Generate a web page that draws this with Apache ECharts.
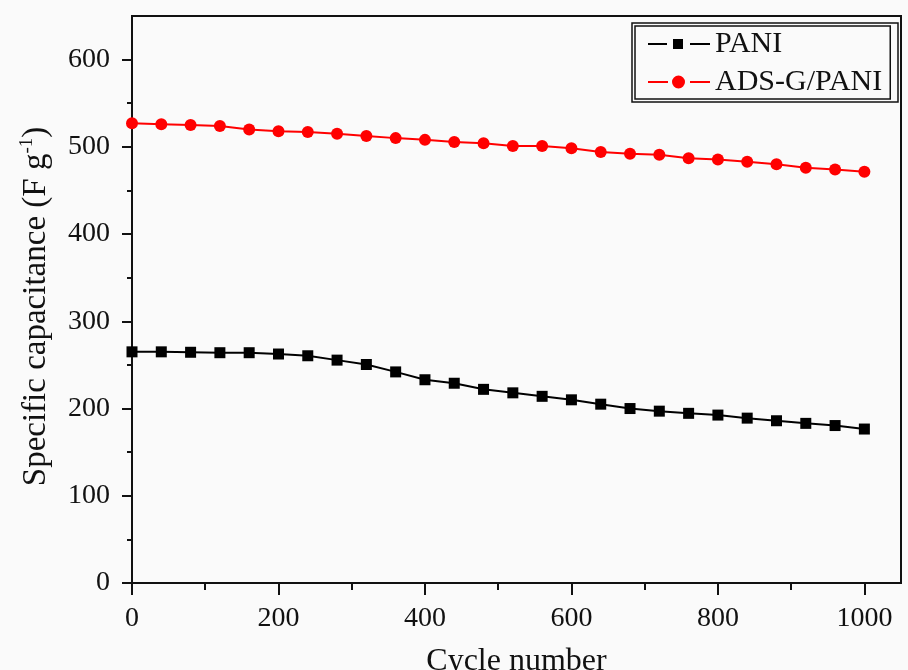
<!DOCTYPE html>
<html>
<head>
<meta charset="utf-8">
<script src="https://cdn.jsdelivr.net/npm/echarts@6/dist/echarts.min.js"></script>
<style>
html,body{margin:0;padding:0;background:#fafafa;}
#main{width:908px;height:670px;}
</style>
</head>
<body>
<div id="main"></div>
<script>
var cycles = [0,40,80,120,160,200,240,280,320,360,400,440,480,520,560,600,640,680,720,760,800,840,880,920,960,1000];
var pani = [265,265,264.5,264,264,262.5,260.5,255.5,250.5,242,233,229,222,218,214,210,205,200,197,194.5,192.5,189,186,183,180.5,176.5];
var adsg = [527,526,525,524,520,518,517,515,512.5,510,508,505.5,504,501,501,498.5,494,492,491,487,485.5,483,480,476,474,471.5];
var seriesNames = ['PANI','ADS-G/PANI'];
var xTitle = 'Cycle number';
var xTicks = [0,200,400,600,800,1000];
var yTicks = [0,100,200,300,400,500,600];

function pairs(xs, ys){ return xs.map(function(x,i){ return [x, ys[i]]; }); }

var FONT = "'Liberation Serif','Times New Roman',serif";
var iconSquare = 'path://M0,4h19v2h-19z M25,0h10v10h-10z M42,4h20v2h-20z';
var iconCircle = 'path://M0,5.5h20v2h-20z M24,6.5a6.5,6.5 0 1,0 13,0a6.5,6.5 0 1,0 -13,0z M42,5.5h20v2h-20z';
var chart = echarts.init(document.getElementById('main'), null, {renderer:'canvas'});
chart.setOption({
  backgroundColor:'#fafafa',
  animation:false,
  textStyle:{fontFamily:FONT,color:'#111'},
  grid:{left:132,top:16,width:769,height:567,containLabel:false,outerBoundsMode:'none',
        show:true,borderColor:'#111',borderWidth:2,backgroundColor:'transparent'},
  xAxis:{
    type:'value',min:0,max:1050,interval:200,
    name:xTitle,nameLocation:'middle',nameGap:63,
    nameTextStyle:{fontFamily:FONT,fontSize:32,color:'#111'},
    axisLine:{show:true,lineStyle:{color:'#111',width:2}},
    axisTick:{show:true,inside:false,length:12,customValues:xTicks,lineStyle:{color:'#111',width:2}},
    minorTick:{show:true,splitNumber:2,length:7,lineStyle:{color:'#111',width:2}},
    splitLine:{show:false},
    axisLabel:{fontFamily:FONT,fontSize:28,color:'#111',margin:22,customValues:xTicks,
      formatter:function(v){ return String(v); }}
  },
  yAxis:{
    type:'value',min:0,max:650,interval:100,
    name:'{a|Specific capacitance (F g}{s|-1}{a|)}',nameLocation:'middle',nameGap:78,nameRotate:90,
    nameTextStyle:{fontFamily:FONT,fontSize:33,color:'#111',padding:[0,14,0,0],
      rich:{a:{fontFamily:FONT,fontSize:33,color:'#111',lineHeight:36},
            s:{fontFamily:FONT,fontSize:19,color:'#111',verticalAlign:'top',lineHeight:36,padding:[0,0,14,0]}}},
    axisLine:{show:true,lineStyle:{color:'#111',width:2}},
    axisTick:{show:true,inside:false,length:10,customValues:yTicks,lineStyle:{color:'#111',width:2}},
    minorTick:{show:true,splitNumber:2,length:5,lineStyle:{color:'#111',width:2}},
    splitLine:{show:false},
    axisLabel:{fontFamily:FONT,fontSize:28,color:'#111',margin:22,customValues:yTicks,
      formatter:function(v){ return String(v); }}
  },
  legend:{
    show:true,orient:'vertical',left:635,top:26,
    padding:[3,8,2,13],itemGap:8,itemWidth:62,itemHeight:14,symbolKeepAspect:true,
    borderColor:'#111',borderWidth:1.5,backgroundColor:'#fafafa',
    itemStyle:{borderWidth:0},
    textStyle:{fontFamily:FONT,fontSize:30,color:'#111',lineHeight:30,padding:[0,0,0,0]},
    data:[{name:seriesNames[0],icon:iconSquare},{name:seriesNames[1],icon:iconCircle}]
  },
  graphic:[{type:'rect',shape:{x:632,y:23,width:266,height:79},style:{fill:null,stroke:'#111',lineWidth:1.5},z:100,silent:true}],
  series:[
    {name:seriesNames[0],type:'line',data:pairs(cycles,pani),symbol:'rect',symbolSize:11,
     lineStyle:{color:'#000',width:2},itemStyle:{color:'#000'}},
    {name:seriesNames[1],type:'line',data:pairs(cycles,adsg),symbol:'circle',symbolSize:12,
     lineStyle:{color:'#ff0000',width:2},itemStyle:{color:'#ff0000'}}
  ]
});
</script>
</body>
</html>
